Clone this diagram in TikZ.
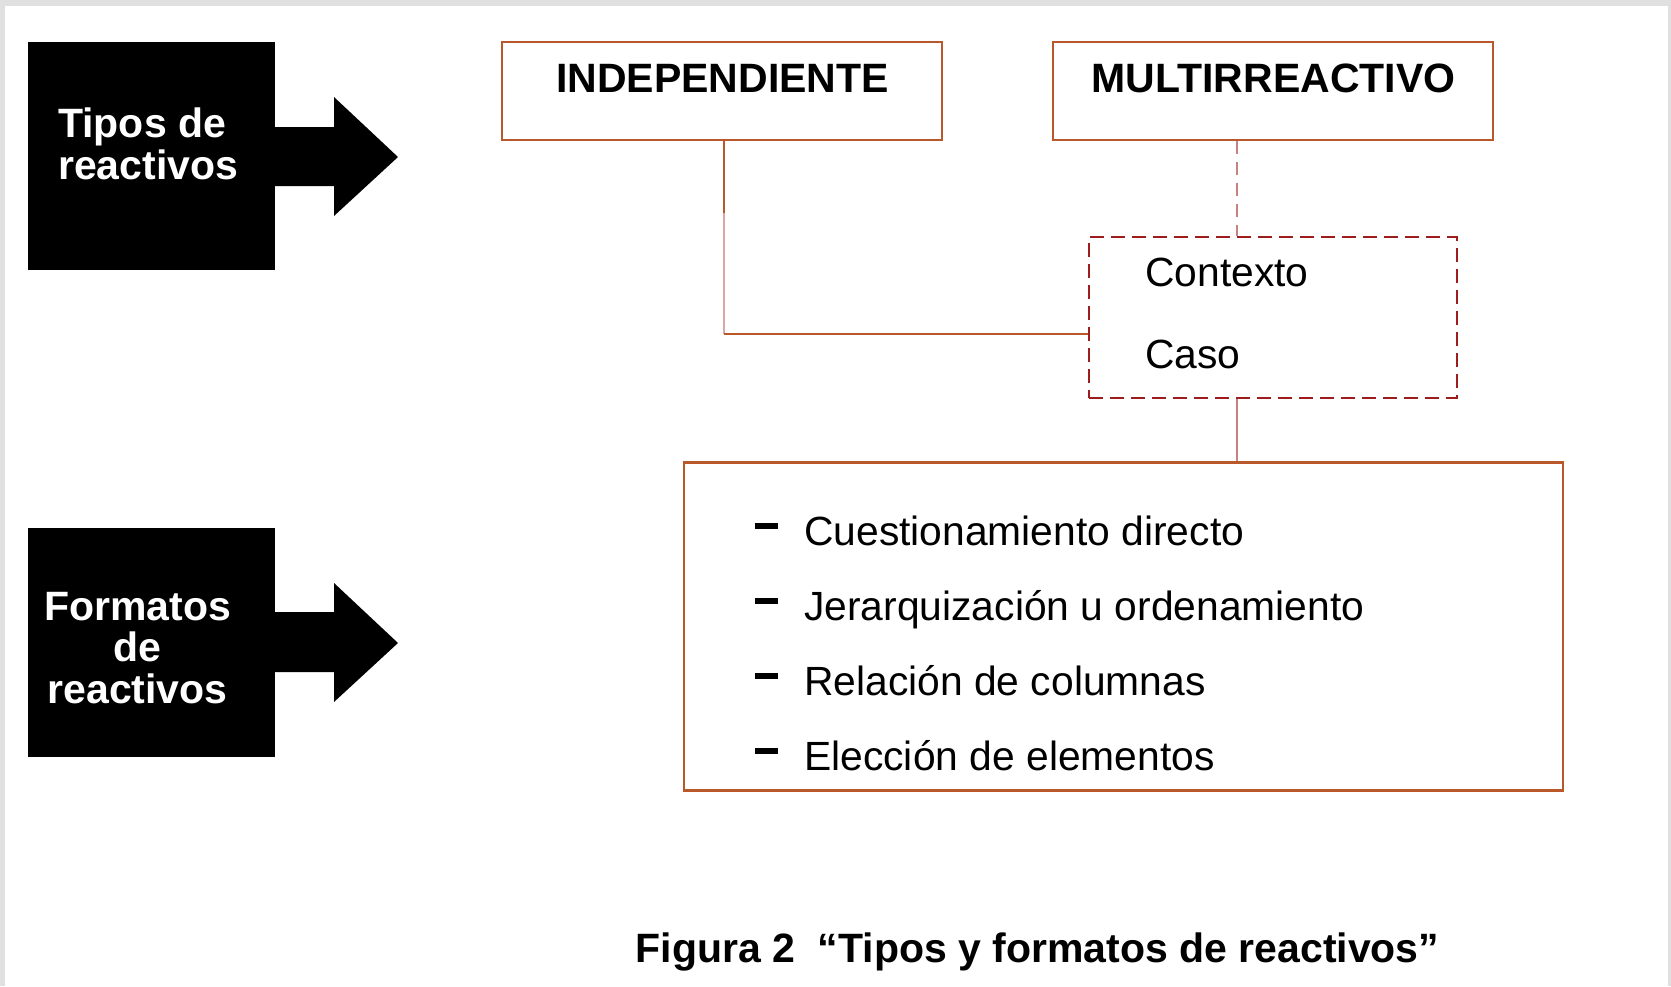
\documentclass[tikz,border=0pt]{standalone}
\usepackage{fontspec}
\setmainfont{Liberation Sans}
\definecolor{boxorange}{RGB}{185,88,42}
\definecolor{dashred}{RGB}{158,28,28}
\definecolor{linkpink}{RGB}{196,130,130}
\definecolor{linklight}{RGB}{218,165,165}
\definecolor{bggray}{RGB}{224,224,224}
\begin{document}
\begin{tikzpicture}[x=1pt,y=-1pt,
  blk/.style={draw=none,fill=black,inner sep=0pt},
  wtxt/.style={text=white,font=\fontsize{41}{41.5}\selectfont\bfseries,inner sep=0pt},
  obox/.style={draw=boxorange,line width=2.8pt,inner sep=0pt},
  dbox/.style={draw=dashred,line width=2.8pt,dash pattern=on 14pt off 7pt,inner sep=0pt},
  btxt/.style={font=\fontsize{41}{48}\selectfont\bfseries,inner sep=0pt},
  rtxt/.style={font=\fontsize{40.8}{48}\selectfont,inner sep=0pt},
  conn/.style={draw=boxorange,line width=2.8pt},
  bulletbar/.style={line width=5.5pt}
]
\useasboundingbox (0,0) rectangle (1671,986);
\fill[bggray] (0,0) rectangle (1671,986);
\fill[white] (5,6) rectangle (1668,986);

% black boxes with arrows
\node[blk,minimum width=247pt,minimum height=228pt] (tipos) at (151.5,156) {};
\fill[black] (274,127) -- (334,127) -- (334,97) -- (398,157) -- (334,216) -- (334,186) -- (274,186) -- cycle;
\node[wtxt,align=left,anchor=west] (tiposlbl) at (58,144) {Tipos de\\reactivos};

\node[blk,minimum width=247pt,minimum height=229pt] (formatos) at (151.5,642) {};
\fill[black] (274,612) -- (334,612) -- (334,583) -- (398,643) -- (334,702) -- (334,672) -- (274,672) -- cycle;
\node[wtxt,align=center] (formatoslbl) at (137.5,648) {Formatos\\de\\reactivos};

% top boxes
\node[obox,minimum width=440pt,minimum height=98pt] (indep) at (722,91) {};
\node[btxt,anchor=base] (indeplbl) at (722.5,92) {INDEPENDIENTE};
\node[obox,minimum width=440pt,minimum height=98pt] (multi) at (1273,91) {};
\node[btxt,anchor=base] (multilbl) at (1273.5,92) {MULTIRREACTIVO};

% dashed box
\node[dbox,minimum width=368pt,minimum height=161pt] (cc) at (1273,317.5) {};
\node[rtxt,anchor=base west] (ctx) at (1145,286) {Contexto};
\node[rtxt,anchor=base west] (caso) at (1145,368) {Caso};

% bottom box
\node[obox,minimum width=879pt,minimum height=328pt] (fmt) at (1123.5,626.5) {};
\node[rtxt,anchor=base west] (i1) at (804,545) {Cuestionamiento directo};
\node[rtxt,anchor=base west] (i2) at (804,620) {Jerarquización u ordenamiento};
\node[rtxt,anchor=base west] (i3) at (804,695) {Relación de columnas};
\node[rtxt,anchor=base west] (i4) at (804,770) {Elección de elementos};
\draw[bulletbar] (755,526) -- (778,526);
\draw[bulletbar] (755,601) -- (778,601);
\draw[bulletbar] (755,676) -- (778,676);
\draw[bulletbar] (755,751) -- (778,751);

% connectors
\coordinate (bend) at (724,334);
\coordinate (mid) at (724,213);
\draw[conn] (indep.south -| bend) -- (mid);
\draw[draw=linklight,line width=2.8pt] (mid) -- (bend);
\draw[conn] (bend) -- (cc.west |- bend);
\draw[draw=linkpink,line width=2.8pt,dash pattern=on 13pt off 8pt] (multi.south -| 1237,0) -- (cc.north -| 1237,0);
\draw[draw=linkpink,line width=2.8pt] (cc.south -| 1237,0) -- (fmt.north -| 1237,0);

% caption
\node[btxt,anchor=base] (caption) at (1037.5,962) {Figura 2\ \ “Tipos y formatos de reactivos”};
\end{tikzpicture}
\end{document}
